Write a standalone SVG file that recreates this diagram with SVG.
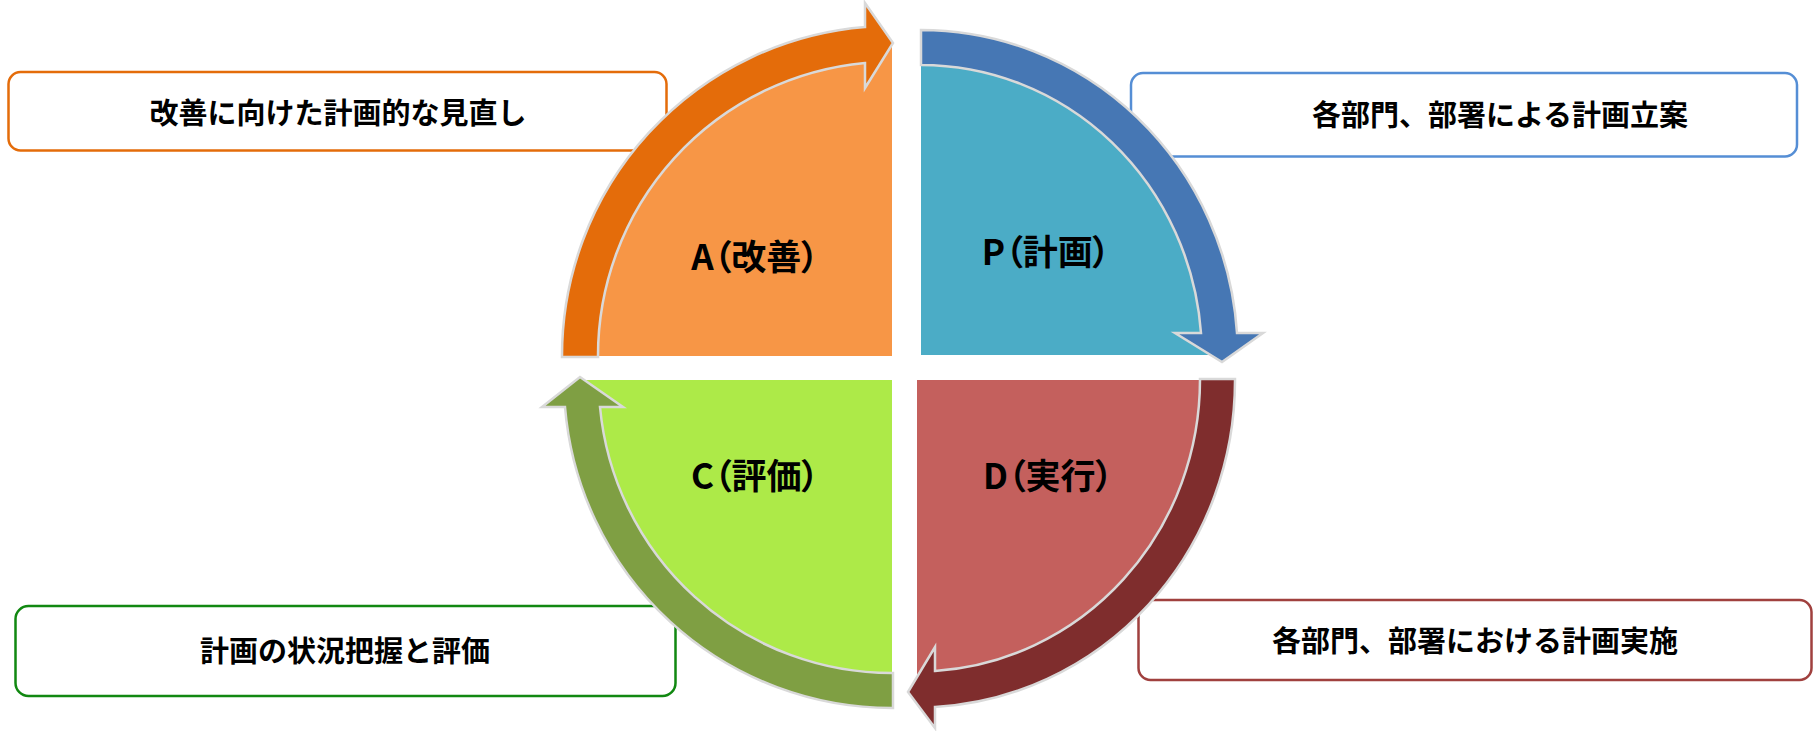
<svg xmlns="http://www.w3.org/2000/svg" width="1816" height="731" viewBox="0 0 1816 731">
<style>
.box{fill:#FFFFFF;stroke-width:2.5}
.bt{font-family:"Noto Sans CJK JP","Noto Sans CJK SC",sans-serif;font-weight:bold;font-size:29px;fill:#000}
.ql{font-family:"Noto Sans CJK JP","Noto Sans CJK SC",sans-serif;font-weight:bold;font-size:35px;fill:#000;font-feature-settings:"palt"}
.arr{stroke:#D9D9D9;stroke-width:2.5;stroke-linejoin:miter}
</style>
<rect width="1816" height="731" fill="#FFFFFF"/>
<g id="box-act">
<rect class="box" x="8.5" y="72" width="658" height="78.5" rx="12" stroke="#E46C0A"/>
<text class="bt" x="338" y="123.5" text-anchor="middle">改善に向けた計画的な見直し</text>
</g>
<g id="box-plan">
<rect class="box" x="1131" y="73" width="666" height="83.5" rx="12" stroke="#558ED5"/>
<text class="bt" x="1500" y="126" text-anchor="middle">各部門、部署による計画立案</text>
</g>
<g id="box-check">
<rect class="box" x="15.5" y="606" width="660" height="90" rx="13" stroke="#118811"/>
<text class="bt" x="345" y="662" text-anchor="middle">計画の状況把握と評価</text>
</g>
<g id="box-do">
<rect class="box" x="1138.5" y="600" width="673" height="80" rx="12" stroke="#A0403E"/>
<text class="bt" x="1475" y="652" text-anchor="middle">各部門、部署における計画実施</text>
</g>
<g id="quarter-a">
<path d="M892,356 L580,356 A312,312 0 0 1 892,44 Z" fill="#F79646"/>
<text class="ql" x="755" y="270" text-anchor="middle">A（改善）</text>
</g>
<g id="quarter-p">
<path d="M921,355 L921,48 A299,307 0 0 1 1220,355 Z" fill="#4BACC6"/>
<text class="ql" x="1046" y="265" text-anchor="middle">P（計画）</text>
</g>
<g id="quarter-d">
<path d="M917,380 L1217,380 A300,310 0 0 1 917,690 Z" fill="#C4605D"/>
<text class="ql" x="1048" y="489" text-anchor="middle">D（実行）</text>
</g>
<g id="quarter-c">
<path d="M892,380 L892,690 A310,310 0 0 1 582,380 Z" fill="#ADEA48"/>
<text class="ql" x="755" y="489" text-anchor="middle">C（評価）</text>
</g>
<g id="connectors">
<path class="arr" fill="#E46C0A" d="M562,357 A330,330 0 0 1 865,27 L865,3 L893,43 L865,88 L865,63 A294,294 0 0 0 598,357 Z"/>
<path class="arr" fill="#4677B4" d="M921,30 A317,325 0 0 1 1237,333 L1263,333 L1222,362 L1175,333 L1201,333 A281,290 0 0 0 921,65 Z"/>
<path class="arr" fill="#7F2D2D" d="M1235,379 A318,327 0 0 1 935,707 L935,728 L908,692 L935,647 L935,671 A283,292 0 0 0 1200,379 Z"/>
<path class="arr" fill="#7F9F43" d="M893,708 A328,328 0 0 1 565,407 L542,407 L580,377 L623,407 L600,407 A293,293 0 0 0 893,673 Z"/>
</g>
</svg>
